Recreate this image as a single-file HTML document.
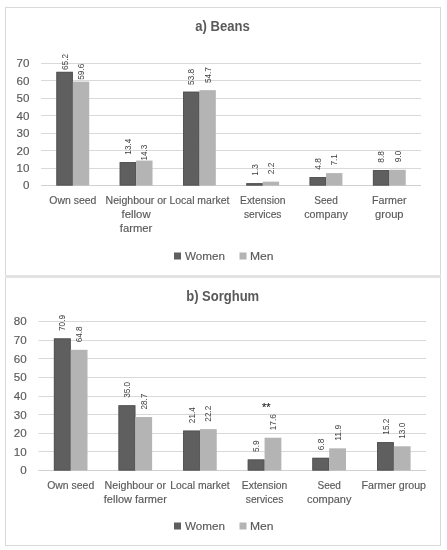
<!DOCTYPE html>
<html><head><meta charset="utf-8"><style>
html,body{margin:0;padding:0;background:#fff;}
body{width:447px;height:550px;overflow:hidden;}
svg{display:block;font-family:"Liberation Sans", sans-serif;filter:grayscale(100%);}
</style></head><body>
<svg width="447" height="550" viewBox="0 0 447 550">
<rect x="5" y="7" width="436" height="1" fill="#d9d9d9"/>
<rect x="5" y="545" width="436" height="1" fill="#d9d9d9"/>
<rect x="5" y="7" width="1" height="539" fill="#d9d9d9"/>
<rect x="440" y="7" width="1" height="539" fill="#d9d9d9"/>
<rect x="5" y="275" width="436" height="3" fill="#e3e3e3"/>
<line x1="41.17" x2="420.97" y1="185.50" y2="185.50" stroke="#d0d0d0" stroke-width="1"/>
<text x="29.50" y="189.40" font-size="11.6" fill="#595959" text-anchor="end" stroke="#595959" stroke-width="0.15" >0</text>
<line x1="41.17" x2="420.97" y1="168.50" y2="168.50" stroke="#d9d9d9" stroke-width="1"/>
<text x="29.50" y="171.97" font-size="11.6" fill="#595959" text-anchor="end" stroke="#595959" stroke-width="0.15" >10</text>
<line x1="41.17" x2="420.97" y1="150.50" y2="150.50" stroke="#d9d9d9" stroke-width="1"/>
<text x="29.50" y="154.54" font-size="11.6" fill="#595959" text-anchor="end" stroke="#595959" stroke-width="0.15" >20</text>
<line x1="41.17" x2="420.97" y1="133.50" y2="133.50" stroke="#d9d9d9" stroke-width="1"/>
<text x="29.50" y="137.11" font-size="11.6" fill="#595959" text-anchor="end" stroke="#595959" stroke-width="0.15" >30</text>
<line x1="41.17" x2="420.97" y1="115.50" y2="115.50" stroke="#d9d9d9" stroke-width="1"/>
<text x="29.50" y="119.68" font-size="11.6" fill="#595959" text-anchor="end" stroke="#595959" stroke-width="0.15" >40</text>
<line x1="41.17" x2="420.97" y1="98.50" y2="98.50" stroke="#d9d9d9" stroke-width="1"/>
<text x="29.50" y="102.25" font-size="11.6" fill="#595959" text-anchor="end" stroke="#595959" stroke-width="0.15" >50</text>
<line x1="41.17" x2="420.97" y1="80.50" y2="80.50" stroke="#d9d9d9" stroke-width="1"/>
<text x="29.50" y="84.82" font-size="11.6" fill="#595959" text-anchor="end" stroke="#595959" stroke-width="0.15" >60</text>
<line x1="41.17" x2="420.97" y1="63.50" y2="63.50" stroke="#d9d9d9" stroke-width="1"/>
<text x="29.50" y="67.39" font-size="11.6" fill="#595959" text-anchor="end" stroke="#595959" stroke-width="0.15" >70</text>
<rect x="56.42" y="71.86" width="16.40" height="113.64" fill="#5f5f5f"/>
<rect x="56.87" y="72.31" width="15.50" height="112.74" fill="none" stroke="#535353" stroke-width="0.9"/>
<text transform="translate(67.72,69.96) rotate(-90)" font-size="8.6" fill="#404040" text-anchor="start" textLength="16.0" lengthAdjust="spacingAndGlyphs">65.2</text>
<rect x="72.82" y="81.62" width="16.40" height="103.88" fill="#b4b4b4"/>
<text transform="translate(84.12,79.72) rotate(-90)" font-size="8.6" fill="#404040" text-anchor="start" textLength="16.0" lengthAdjust="spacingAndGlyphs">59.6</text>
<rect x="119.72" y="162.14" width="16.40" height="23.36" fill="#5f5f5f"/>
<rect x="120.17" y="162.59" width="15.50" height="22.46" fill="none" stroke="#535353" stroke-width="0.9"/>
<text transform="translate(131.02,154.64) rotate(-90)" font-size="8.6" fill="#404040" text-anchor="start" textLength="16.0" lengthAdjust="spacingAndGlyphs">13.4</text>
<rect x="136.12" y="160.58" width="16.40" height="24.92" fill="#b4b4b4"/>
<text transform="translate(147.42,160.58) rotate(-90)" font-size="8.6" fill="#404040" text-anchor="start" textLength="16.0" lengthAdjust="spacingAndGlyphs">14.3</text>
<rect x="183.02" y="91.73" width="16.40" height="93.77" fill="#5f5f5f"/>
<rect x="183.47" y="92.18" width="15.50" height="92.87" fill="none" stroke="#535353" stroke-width="0.9"/>
<text transform="translate(194.32,84.93) rotate(-90)" font-size="8.6" fill="#404040" text-anchor="start" textLength="16.0" lengthAdjust="spacingAndGlyphs">53.8</text>
<rect x="199.42" y="90.16" width="16.40" height="95.34" fill="#b4b4b4"/>
<text transform="translate(210.72,83.06) rotate(-90)" font-size="8.6" fill="#404040" text-anchor="start" textLength="16.0" lengthAdjust="spacingAndGlyphs">54.7</text>
<rect x="246.32" y="183.23" width="16.40" height="2.27" fill="#5f5f5f"/>
<rect x="246.77" y="183.68" width="15.50" height="1.37" fill="none" stroke="#535353" stroke-width="0.9"/>
<text transform="translate(257.62,175.73) rotate(-90)" font-size="8.6" fill="#404040" text-anchor="start" textLength="11.6" lengthAdjust="spacingAndGlyphs">1.3</text>
<rect x="262.72" y="181.67" width="16.40" height="3.83" fill="#b4b4b4"/>
<text transform="translate(274.02,174.17) rotate(-90)" font-size="8.6" fill="#404040" text-anchor="start" textLength="11.6" lengthAdjust="spacingAndGlyphs">2.2</text>
<rect x="309.62" y="177.13" width="16.40" height="8.37" fill="#5f5f5f"/>
<rect x="310.07" y="177.58" width="15.50" height="7.47" fill="none" stroke="#535353" stroke-width="0.9"/>
<text transform="translate(320.92,169.63) rotate(-90)" font-size="8.6" fill="#404040" text-anchor="start" textLength="11.6" lengthAdjust="spacingAndGlyphs">4.8</text>
<rect x="326.02" y="173.12" width="16.40" height="12.38" fill="#b4b4b4"/>
<text transform="translate(337.32,165.62) rotate(-90)" font-size="8.6" fill="#404040" text-anchor="start" textLength="11.6" lengthAdjust="spacingAndGlyphs">7.1</text>
<rect x="372.92" y="170.16" width="16.40" height="15.34" fill="#5f5f5f"/>
<rect x="373.37" y="170.61" width="15.50" height="14.44" fill="none" stroke="#535353" stroke-width="0.9"/>
<text transform="translate(384.22,162.66) rotate(-90)" font-size="8.6" fill="#404040" text-anchor="start" textLength="11.6" lengthAdjust="spacingAndGlyphs">8.8</text>
<rect x="389.32" y="169.81" width="16.40" height="15.69" fill="#b4b4b4"/>
<text transform="translate(400.62,162.31) rotate(-90)" font-size="8.6" fill="#404040" text-anchor="start" textLength="11.6" lengthAdjust="spacingAndGlyphs">9.0</text>
<text x="72.82" y="203.80" font-size="10.2" fill="#595959" text-anchor="middle" stroke="#595959" stroke-width="0.15" textLength="47.00" lengthAdjust="spacingAndGlyphs" >Own seed</text>
<text x="136.12" y="203.80" font-size="10.2" fill="#595959" text-anchor="middle" stroke="#595959" stroke-width="0.15" textLength="61.00" lengthAdjust="spacingAndGlyphs" >Neighbour or</text>
<text x="136.12" y="217.80" font-size="10.2" fill="#595959" text-anchor="middle" stroke="#595959" stroke-width="0.15" textLength="29.00" lengthAdjust="spacingAndGlyphs" >fellow</text>
<text x="136.12" y="231.80" font-size="10.2" fill="#595959" text-anchor="middle" stroke="#595959" stroke-width="0.15" textLength="32.50" lengthAdjust="spacingAndGlyphs" >farmer</text>
<text x="199.42" y="203.80" font-size="10.2" fill="#595959" text-anchor="middle" stroke="#595959" stroke-width="0.15" textLength="60.00" lengthAdjust="spacingAndGlyphs" >Local market</text>
<text x="262.72" y="203.80" font-size="10.2" fill="#595959" text-anchor="middle" stroke="#595959" stroke-width="0.15" textLength="45.50" lengthAdjust="spacingAndGlyphs" >Extension</text>
<text x="262.72" y="217.80" font-size="10.2" fill="#595959" text-anchor="middle" stroke="#595959" stroke-width="0.15" textLength="37.50" lengthAdjust="spacingAndGlyphs" >services</text>
<text x="326.02" y="203.80" font-size="10.2" fill="#595959" text-anchor="middle" stroke="#595959" stroke-width="0.15" textLength="23.50" lengthAdjust="spacingAndGlyphs" >Seed</text>
<text x="326.02" y="217.80" font-size="10.2" fill="#595959" text-anchor="middle" stroke="#595959" stroke-width="0.15" textLength="43.50" lengthAdjust="spacingAndGlyphs" >company</text>
<text x="389.32" y="203.80" font-size="10.2" fill="#595959" text-anchor="middle" stroke="#595959" stroke-width="0.15" textLength="34.50" lengthAdjust="spacingAndGlyphs" >Farmer</text>
<text x="389.32" y="217.80" font-size="10.2" fill="#595959" text-anchor="middle" stroke="#595959" stroke-width="0.15" textLength="28.50" lengthAdjust="spacingAndGlyphs" >group</text>
<text x="222.60" y="31.00" font-size="14" fill="#595959" text-anchor="middle" textLength="54.50" lengthAdjust="spacingAndGlyphs" font-weight="bold" >a) Beans</text>
<rect x="174" y="252.50" width="7" height="7" fill="#5f5f5f"/>
<text x="185.00" y="259.50" font-size="11.5" fill="#595959" text-anchor="start" stroke="#595959" stroke-width="0.15" textLength="40.00" lengthAdjust="spacingAndGlyphs" >Women</text>
<rect x="239.5" y="252.50" width="7" height="7" fill="#b4b4b4"/>
<text x="250.00" y="259.50" font-size="11.5" fill="#595959" text-anchor="start" stroke="#595959" stroke-width="0.15" textLength="23.50" lengthAdjust="spacingAndGlyphs" >Men</text>
<line x1="38.39" x2="426.11" y1="470.50" y2="470.50" stroke="#d0d0d0" stroke-width="1"/>
<text x="26.70" y="474.40" font-size="11.6" fill="#595959" text-anchor="end" stroke="#595959" stroke-width="0.15" >0</text>
<line x1="38.39" x2="426.11" y1="451.50" y2="451.50" stroke="#d9d9d9" stroke-width="1"/>
<text x="26.70" y="455.77" font-size="11.6" fill="#595959" text-anchor="end" stroke="#595959" stroke-width="0.15" >10</text>
<line x1="38.39" x2="426.11" y1="433.50" y2="433.50" stroke="#d9d9d9" stroke-width="1"/>
<text x="26.70" y="437.15" font-size="11.6" fill="#595959" text-anchor="end" stroke="#595959" stroke-width="0.15" >20</text>
<line x1="38.39" x2="426.11" y1="414.50" y2="414.50" stroke="#d9d9d9" stroke-width="1"/>
<text x="26.70" y="418.52" font-size="11.6" fill="#595959" text-anchor="end" stroke="#595959" stroke-width="0.15" >30</text>
<line x1="38.39" x2="426.11" y1="396.50" y2="396.50" stroke="#d9d9d9" stroke-width="1"/>
<text x="26.70" y="399.90" font-size="11.6" fill="#595959" text-anchor="end" stroke="#595959" stroke-width="0.15" >40</text>
<line x1="38.39" x2="426.11" y1="377.50" y2="377.50" stroke="#d9d9d9" stroke-width="1"/>
<text x="26.70" y="381.27" font-size="11.6" fill="#595959" text-anchor="end" stroke="#595959" stroke-width="0.15" >50</text>
<line x1="38.39" x2="426.11" y1="358.50" y2="358.50" stroke="#d9d9d9" stroke-width="1"/>
<text x="26.70" y="362.65" font-size="11.6" fill="#595959" text-anchor="end" stroke="#595959" stroke-width="0.15" >60</text>
<line x1="38.39" x2="426.11" y1="340.50" y2="340.50" stroke="#d9d9d9" stroke-width="1"/>
<text x="26.70" y="344.02" font-size="11.6" fill="#595959" text-anchor="end" stroke="#595959" stroke-width="0.15" >70</text>
<line x1="38.39" x2="426.11" y1="321.50" y2="321.50" stroke="#d9d9d9" stroke-width="1"/>
<text x="26.70" y="325.40" font-size="11.6" fill="#595959" text-anchor="end" stroke="#595959" stroke-width="0.15" >80</text>
<rect x="53.90" y="338.45" width="16.80" height="132.05" fill="#5f5f5f"/>
<rect x="54.35" y="338.90" width="15.90" height="131.15" fill="none" stroke="#535353" stroke-width="0.9"/>
<text transform="translate(65.40,330.95) rotate(-90)" font-size="8.6" fill="#404040" text-anchor="start" textLength="16.0" lengthAdjust="spacingAndGlyphs">70.9</text>
<rect x="70.70" y="349.81" width="16.80" height="120.69" fill="#b4b4b4"/>
<text transform="translate(82.20,342.31) rotate(-90)" font-size="8.6" fill="#404040" text-anchor="start" textLength="16.0" lengthAdjust="spacingAndGlyphs">64.8</text>
<rect x="118.52" y="405.31" width="16.80" height="65.19" fill="#5f5f5f"/>
<rect x="118.97" y="405.76" width="15.90" height="64.29" fill="none" stroke="#535353" stroke-width="0.9"/>
<text transform="translate(130.02,397.81) rotate(-90)" font-size="8.6" fill="#404040" text-anchor="start" textLength="16.0" lengthAdjust="spacingAndGlyphs">35.0</text>
<rect x="135.32" y="417.05" width="16.80" height="53.45" fill="#b4b4b4"/>
<text transform="translate(146.82,409.55) rotate(-90)" font-size="8.6" fill="#404040" text-anchor="start" textLength="16.0" lengthAdjust="spacingAndGlyphs">28.7</text>
<rect x="183.14" y="430.64" width="16.80" height="39.86" fill="#5f5f5f"/>
<rect x="183.59" y="431.09" width="15.90" height="38.96" fill="none" stroke="#535353" stroke-width="0.9"/>
<text transform="translate(194.64,423.14) rotate(-90)" font-size="8.6" fill="#404040" text-anchor="start" textLength="16.0" lengthAdjust="spacingAndGlyphs">21.4</text>
<rect x="199.94" y="429.15" width="16.80" height="41.35" fill="#b4b4b4"/>
<text transform="translate(211.44,421.65) rotate(-90)" font-size="8.6" fill="#404040" text-anchor="start" textLength="16.0" lengthAdjust="spacingAndGlyphs">22.2</text>
<rect x="247.76" y="459.51" width="16.80" height="10.99" fill="#5f5f5f"/>
<rect x="248.21" y="459.96" width="15.90" height="10.09" fill="none" stroke="#535353" stroke-width="0.9"/>
<text transform="translate(259.26,452.01) rotate(-90)" font-size="8.6" fill="#404040" text-anchor="start" textLength="11.6" lengthAdjust="spacingAndGlyphs">5.9</text>
<rect x="264.56" y="437.72" width="16.80" height="32.78" fill="#b4b4b4"/>
<text transform="translate(276.06,430.22) rotate(-90)" font-size="8.6" fill="#404040" text-anchor="start" textLength="16.0" lengthAdjust="spacingAndGlyphs">17.6</text>
<rect x="312.38" y="457.83" width="16.80" height="12.67" fill="#5f5f5f"/>
<rect x="312.83" y="458.28" width="15.90" height="11.77" fill="none" stroke="#535353" stroke-width="0.9"/>
<text transform="translate(323.88,450.33) rotate(-90)" font-size="8.6" fill="#404040" text-anchor="start" textLength="11.6" lengthAdjust="spacingAndGlyphs">6.8</text>
<rect x="329.18" y="448.34" width="16.80" height="22.16" fill="#b4b4b4"/>
<text transform="translate(340.68,440.84) rotate(-90)" font-size="8.6" fill="#404040" text-anchor="start" textLength="16.0" lengthAdjust="spacingAndGlyphs">11.9</text>
<rect x="377.00" y="442.19" width="16.80" height="28.31" fill="#5f5f5f"/>
<rect x="377.45" y="442.64" width="15.90" height="27.41" fill="none" stroke="#535353" stroke-width="0.9"/>
<text transform="translate(388.50,434.69) rotate(-90)" font-size="8.6" fill="#404040" text-anchor="start" textLength="16.0" lengthAdjust="spacingAndGlyphs">15.2</text>
<rect x="393.80" y="446.29" width="16.80" height="24.21" fill="#b4b4b4"/>
<text transform="translate(405.30,438.79) rotate(-90)" font-size="8.6" fill="#404040" text-anchor="start" textLength="16.0" lengthAdjust="spacingAndGlyphs">13.0</text>
<text x="70.70" y="489.00" font-size="10.2" fill="#595959" text-anchor="middle" stroke="#595959" stroke-width="0.15" textLength="47.00" lengthAdjust="spacingAndGlyphs" >Own seed</text>
<text x="135.32" y="489.00" font-size="10.2" fill="#595959" text-anchor="middle" stroke="#595959" stroke-width="0.15" textLength="61.50" lengthAdjust="spacingAndGlyphs" >Neighbour or</text>
<text x="135.32" y="502.70" font-size="10.2" fill="#595959" text-anchor="middle" stroke="#595959" stroke-width="0.15" textLength="63.00" lengthAdjust="spacingAndGlyphs" >fellow farmer</text>
<text x="199.94" y="489.00" font-size="10.2" fill="#595959" text-anchor="middle" stroke="#595959" stroke-width="0.15" textLength="59.50" lengthAdjust="spacingAndGlyphs" >Local market</text>
<text x="264.56" y="489.00" font-size="10.2" fill="#595959" text-anchor="middle" stroke="#595959" stroke-width="0.15" textLength="45.50" lengthAdjust="spacingAndGlyphs" >Extension</text>
<text x="264.56" y="502.70" font-size="10.2" fill="#595959" text-anchor="middle" stroke="#595959" stroke-width="0.15" textLength="37.50" lengthAdjust="spacingAndGlyphs" >services</text>
<text x="329.18" y="489.00" font-size="10.2" fill="#595959" text-anchor="middle" stroke="#595959" stroke-width="0.15" textLength="23.50" lengthAdjust="spacingAndGlyphs" >Seed</text>
<text x="329.18" y="502.70" font-size="10.2" fill="#595959" text-anchor="middle" stroke="#595959" stroke-width="0.15" textLength="44.50" lengthAdjust="spacingAndGlyphs" >company</text>
<text x="393.80" y="489.00" font-size="10.2" fill="#595959" text-anchor="middle" stroke="#595959" stroke-width="0.15" textLength="64.50" lengthAdjust="spacingAndGlyphs" >Farmer group</text>
<text x="222.70" y="301.00" font-size="14" fill="#595959" text-anchor="middle" textLength="73.00" lengthAdjust="spacingAndGlyphs" font-weight="bold" >b) Sorghum</text>
<rect x="174" y="522.50" width="7" height="7" fill="#5f5f5f"/>
<text x="185.00" y="529.50" font-size="11.5" fill="#595959" text-anchor="start" stroke="#595959" stroke-width="0.15" textLength="40.00" lengthAdjust="spacingAndGlyphs" >Women</text>
<rect x="239.5" y="522.50" width="7" height="7" fill="#b4b4b4"/>
<text x="250.00" y="529.50" font-size="11.5" fill="#595959" text-anchor="start" stroke="#595959" stroke-width="0.15" textLength="23.50" lengthAdjust="spacingAndGlyphs" >Men</text>
<text x="266.30" y="410.50" font-size="11" fill="#262626" text-anchor="middle" stroke="#262626" stroke-width="0.15" >**</text>
</svg>
</body></html>
